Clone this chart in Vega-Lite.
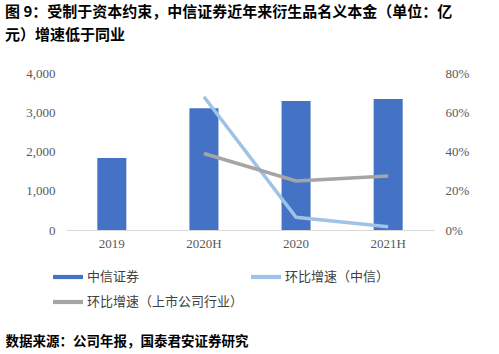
{
  "$schema": "https://vega.github.io/schema/vega-lite/v6.json",
  "width": 368,
  "height": 157,
  "autosize": {"type": "none"},
  "padding": {"left": 66, "top": 73, "right": 65, "bottom": 124},
  "background": "white",
  "title": {
    "text": ["图 9：受制于资本约束，中信证券近年来衍生品名义本金（单位：亿", "元）增速低于同业"],
    "anchor": "start",
    "frame": "group",
    "dx": -61,
    "offset": 24,
    "font": "Noto Sans CJK SC",
    "fontSize": 15,
    "fontWeight": "bold",
    "color": "#000000",
    "lineHeight": 23
  },
  "data": {
    "values": [
      {"period": "2019", "series": "中信证券", "value": 1834},
      {"period": "2020H", "series": "中信证券", "value": 3100},
      {"period": "2020", "series": "中信证券", "value": 3287},
      {"period": "2021H", "series": "中信证券", "value": 3337},
      {"period": "2020H", "series": "环比增速（中信）", "value": 0.679},
      {"period": "2020", "series": "环比增速（中信）", "value": 0.065},
      {"period": "2021H", "series": "环比增速（中信）", "value": 0.017},
      {"period": "2020H", "series": "环比增速（上市公司行业）", "value": 0.39},
      {"period": "2020", "series": "环比增速（上市公司行业）", "value": 0.25},
      {"period": "2021H", "series": "环比增速（上市公司行业）", "value": 0.275}
    ]
  },
  "encoding": {
    "x": {
      "field": "period",
      "type": "ordinal",
      "sort": ["2019", "2020H", "2020", "2021H"],
      "scale": {"paddingInner": 0.685, "paddingOuter": 0.34},
      "axis": {
        "labelAngle": 0,
        "labelFont": "Liberation Serif",
        "labelFontSize": 13,
        "labelColor": "#595959",
        "labelPadding": 7,
        "ticks": false,
        "domainColor": "#d9d9d9",
        "domainWidth": 1,
        "title": "数据来源：公司年报，国泰君安证券研究",
        "titleX": -61,
        "titleY": 111,
        "titleAlign": "left",
        "titleBaseline": "middle",
        "titleFont": "Noto Sans CJK SC",
        "titleFontSize": 13.5,
        "titleFontWeight": "bold",
        "titleColor": "#000000"
      }
    },
    "color": {
      "field": "series",
      "type": "nominal",
      "scale": {
        "domain": ["中信证券", "环比增速（中信）", "环比增速（上市公司行业）"],
        "range": ["#4472C4", "#9DC3E6", "#A5A5A5"]
      },
      "legend": {
        "orient": "none",
        "direction": "horizontal",
        "legendX": -13,
        "legendY": 189,
        "columns": 2,
        "columnPadding": 7,
        "rowPadding": 3,
        "padding": 0,
        "title": null,
        "symbolType": "M-1,-0.14L1,-0.14L1,0.14L-1,0.14Z",
        "symbolSize": 900,
        "symbolStrokeWidth": 0,
        "labelFont": "Noto Sans CJK SC",
        "labelFontSize": 13,
        "labelColor": "#404040",
        "labelOffset": 4,
        "encode": {
          "symbols": {
            "update": {
              "fill": {"scale": "color", "field": "value"},
              "strokeWidth": {"value": 0}
            }
          }
        }
      }
    }
  },
  "layer": [
    {
      "transform": [{"filter": "datum.series === '中信证券'"}],
      "mark": {"type": "bar"},
      "encoding": {
        "y": {
          "field": "value",
          "type": "quantitative",
          "scale": {"domain": [0, 4000]},
          "axis": {
            "values": [0, 1000, 2000, 3000, 4000],
            "format": ",.0f",
            "title": null,
            "domain": false,
            "ticks": false,
            "grid": false,
            "labelFont": "Liberation Serif",
            "labelFontSize": 13,
            "labelColor": "#595959",
            "labelPadding": 11
          }
        }
      }
    },
    {
      "transform": [{"filter": "datum.series !== '中信证券'"}],
      "mark": {"type": "line", "strokeWidth": 3.5},
      "encoding": {
        "y": {
          "field": "value",
          "type": "quantitative",
          "scale": {"domain": [0, 0.8]},
          "axis": {
            "orient": "right",
            "values": [0, 0.2, 0.4, 0.6, 0.8],
            "format": ".0%",
            "title": null,
            "domain": false,
            "ticks": false,
            "grid": false,
            "labelFont": "Liberation Serif",
            "labelFontSize": 13,
            "labelColor": "#595959",
            "labelPadding": 11
          }
        }
      }
    }
  ],
  "resolve": {"scale": {"y": "independent"}},
  "config": {"view": {"stroke": null}}
}
